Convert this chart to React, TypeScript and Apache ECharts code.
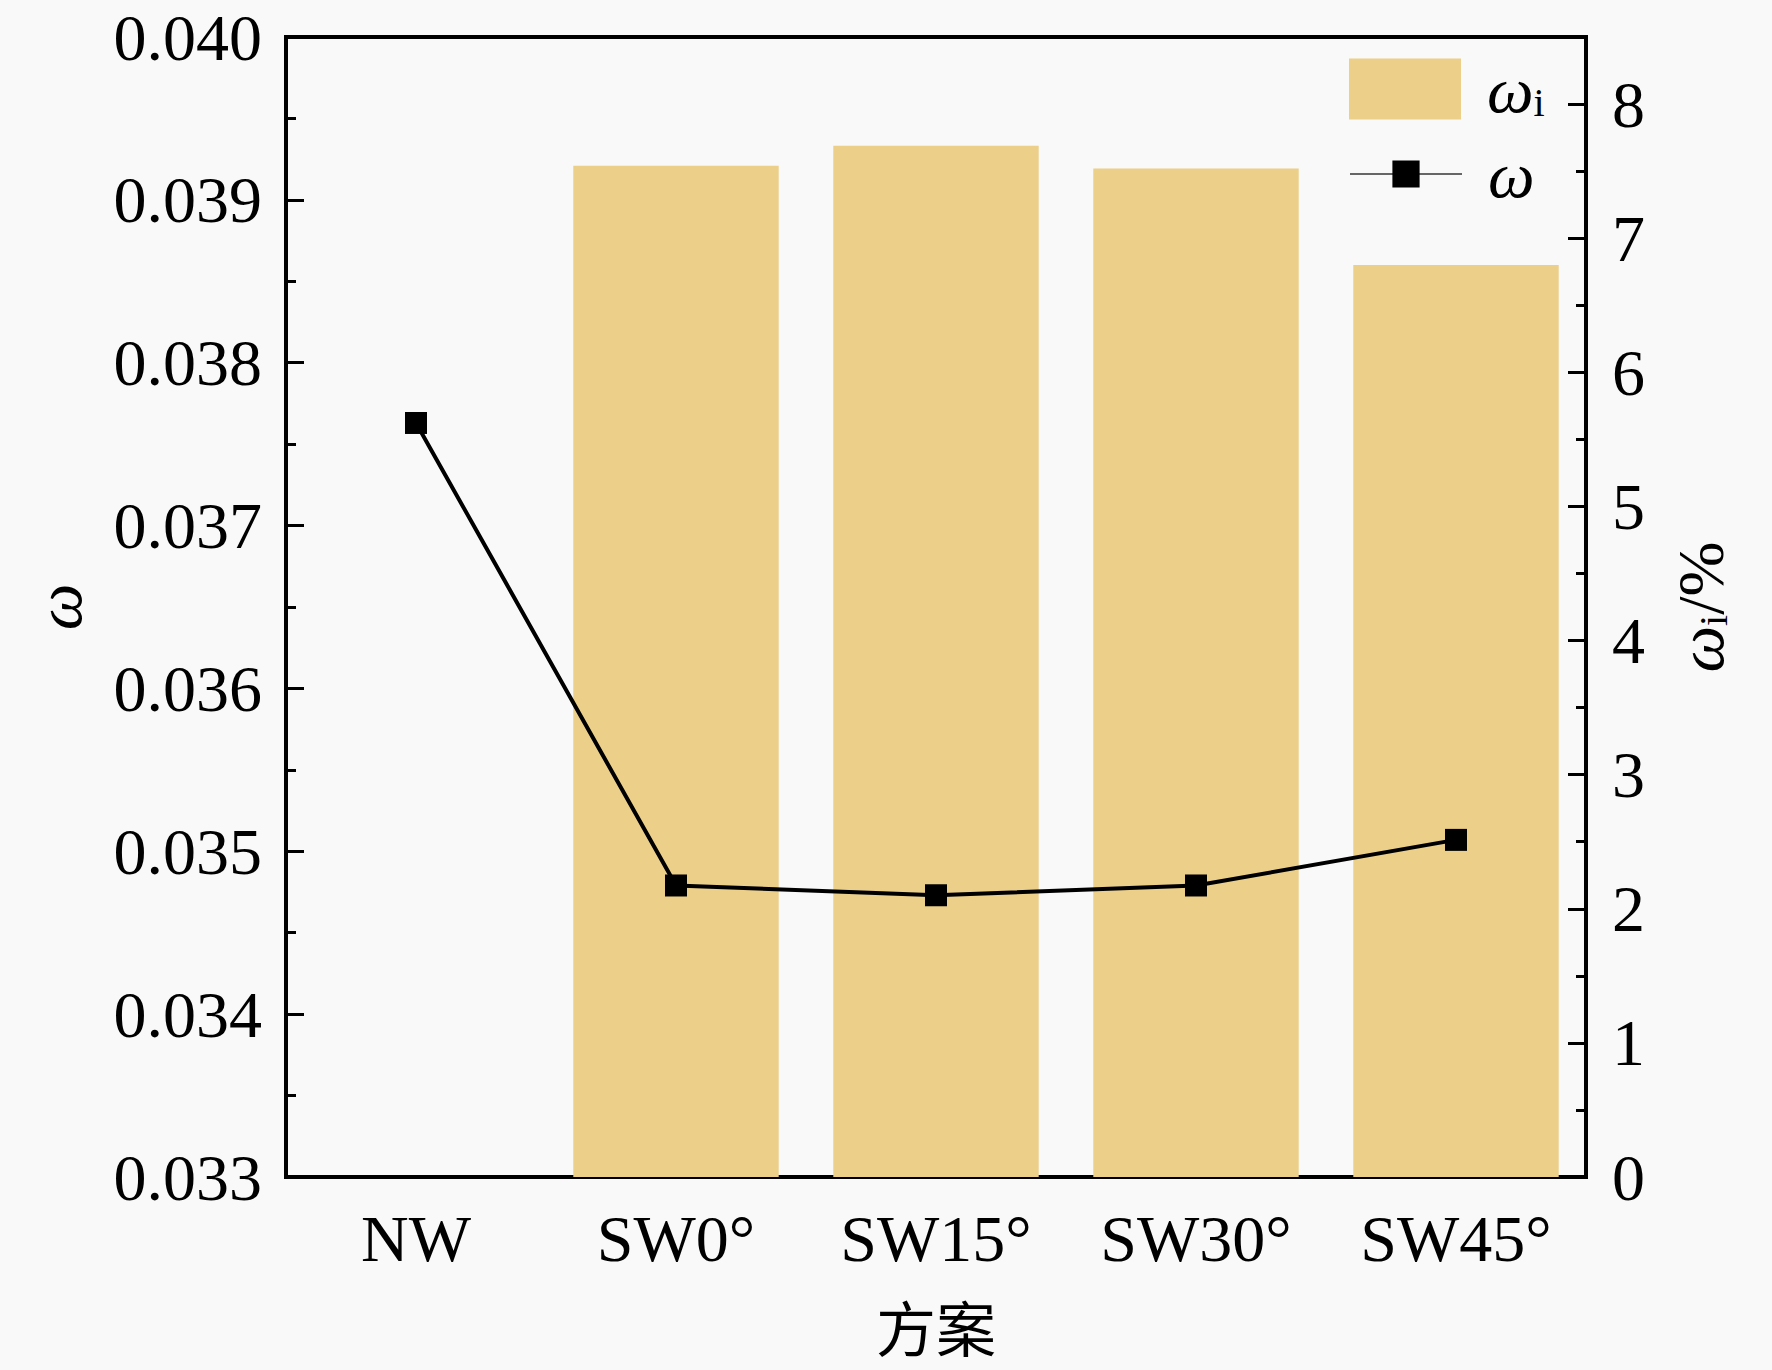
import React, { useEffect, useRef } from "react";
import * as echarts from "echarts";

const categories = ["NW", "SW0°", "SW15°", "SW30°", "SW45°"];
const omegaValues = [0.03763, 0.03479, 0.03473, 0.03479, 0.03507];
const omegaIValues: (number | string)[] = ["-", 7.54, 7.69, 7.52, 6.8];
const leftTicks = { min: 0.033, max: 0.04, interval: 0.001 };
const rightTicks = { min: 0, max: 8.5, interval: 1 };

const SERIF = "'Liberation Serif', 'Times New Roman', serif";
const CJK = "'Noto Sans CJK SC', sans-serif";
const BAR_NAME = "ωi";
const LINE_NAME = "ω";

export default function App() {
  const ref = useRef<HTMLDivElement>(null);
  useEffect(() => {
    if (!ref.current) return;
    const chart = echarts.init(ref.current, undefined, { renderer: "svg" });
    const richText = {
      a: { fontFamily: SERIF, fontStyle: "italic", fontSize: 66, lineHeight: 60, color: "#000" },
      b: { fontFamily: SERIF, fontSize: 40, lineHeight: 34, color: "#000", padding: [26, 0, 0, 0] },
      c: { fontFamily: SERIF, fontSize: 66, lineHeight: 60, color: "#000" },
    };
    const legendFormatter = (name: string) =>
      name === BAR_NAME ? "{a|ω}{b|i}" : "{a|ω}";
    chart.setOption({
      animation: false,
      backgroundColor: "#f9f9f9",
      grid: {
        left: 286,
        right: 186,
        top: 37,
        bottom: 193,
        outerBoundsMode: "none",
        containLabel: false,
        show: true,
        borderColor: "#000",
        borderWidth: 4,
        backgroundColor: "transparent",
      },
      legend: [
        {
          data: [BAR_NAME],
          left: 1344,
          top: 51,
          itemWidth: 112,
          itemHeight: 61,
          icon: "rect",
          orient: "vertical",
          formatter: legendFormatter,
          textStyle: { rich: richText, padding: [0, 0, 0, 21] },
        },
        {
          data: [LINE_NAME],
          left: 1344,
          top: 136,
          itemWidth: 112,
          itemHeight: 34,
          orient: "vertical",
          formatter: legendFormatter,
          lineStyle: { color: "#666", width: 2 },
          textStyle: { rich: richText, padding: [0, 0, 0, 21] },
        },
      ],
      xAxis: {
        type: "category",
        data: categories,
        boundaryGap: true,
        axisLine: { lineStyle: { color: "#000", width: 4 } },
        axisTick: { inside: true, alignWithLabel: true, length: 18, lineStyle: { color: "#000", width: 3 } },
        axisLabel: { fontFamily: SERIF, fontSize: 66, color: "#000", margin: 28 },
        name: "方案",
        nameLocation: "middle",
        nameGap: 118,
        nameTextStyle: { fontFamily: CJK, fontSize: 60, color: "#000" },
      },
      yAxis: [
        {
          type: "value",
          min: leftTicks.min,
          max: leftTicks.max,
          interval: leftTicks.interval,
          axisLine: { show: true, lineStyle: { color: "#000", width: 4 } },
          axisTick: { show: true, inside: true, length: 18, lineStyle: { color: "#000", width: 3 } },
          minorTick: { show: true, splitNumber: 2, length: 10, lineStyle: { color: "#000", width: 3 } },
          splitLine: { show: false },
          axisLabel: {
            fontFamily: SERIF,
            fontSize: 66,
            color: "#000",
            margin: 24,
            formatter: (v: number) => v.toFixed(3),
          },
          name: "ω",
          nameLocation: "middle",
          nameGap: 195,
          nameRotate: 90,
          nameTextStyle: { fontFamily: SERIF, fontStyle: "italic", fontSize: 66, color: "#000" },
        },
        {
          type: "value",
          position: "right",
          min: rightTicks.min,
          max: rightTicks.max,
          interval: rightTicks.interval,
          axisLine: { show: true, lineStyle: { color: "#000", width: 4 } },
          axisTick: { show: true, inside: true, length: 18, lineStyle: { color: "#000", width: 3 } },
          minorTick: { show: true, splitNumber: 2, length: 10, lineStyle: { color: "#000", width: 3 } },
          splitLine: { show: false },
          axisLabel: {
            fontFamily: SERIF,
            fontSize: 66,
            color: "#000",
            margin: 26,
            formatter: (v: number) => (Number.isInteger(v) ? String(v) : ""),
          },
          name: "{a|ω}{b|i}{c|/%}",
          nameLocation: "middle",
          nameGap: 84,
          nameRotate: 90,
          nameTextStyle: { rich: richText },
        },
      ],
      series: [
        {
          name: BAR_NAME,
          type: "bar",
          yAxisIndex: 1,
          data: omegaIValues,
          barWidth: "79%",
          itemStyle: { color: "#ECCF88" },
          z: 1,
        },
        {
          name: LINE_NAME,
          type: "line",
          yAxisIndex: 0,
          data: omegaValues,
          symbol: "rect",
          symbolSize: 22,
          itemStyle: { color: "#000" },
          lineStyle: { color: "#000", width: 4 },
          z: 3,
        },
      ],
    });
    return () => chart.dispose();
  }, []);
  return (
    <div
      ref={ref}
      style={{ position: "absolute", left: 0, top: 0, width: 1772, height: 1370 }}
    />
  );
}
